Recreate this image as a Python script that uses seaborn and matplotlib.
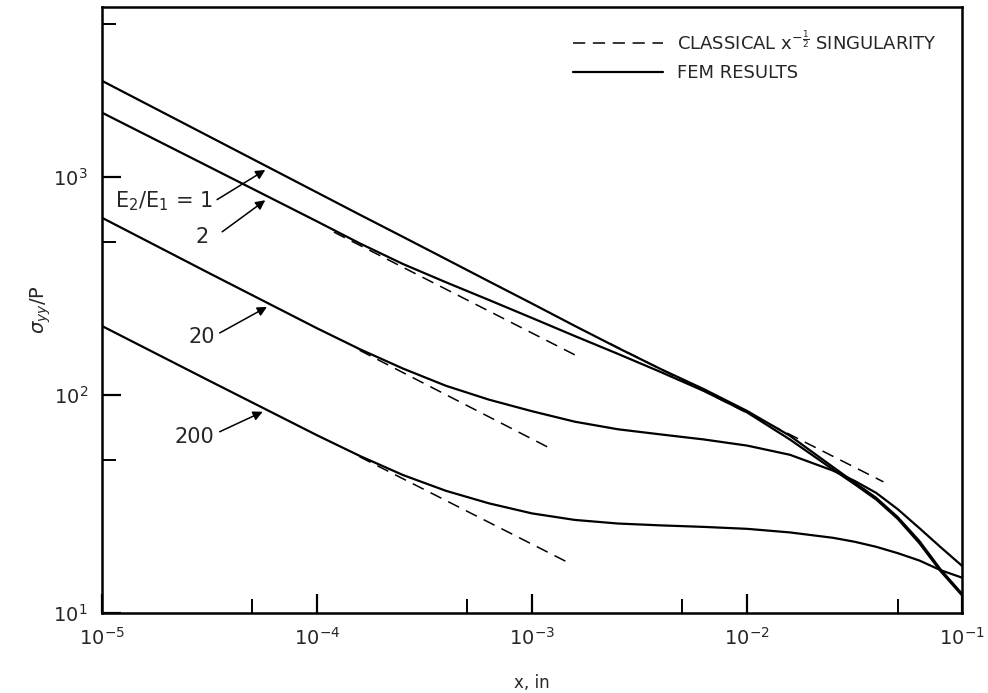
import numpy as np
import pandas as pd
import matplotlib
matplotlib.use("Agg")
import matplotlib.pyplot as plt
import seaborn as sns
from matplotlib.ticker import LogLocator, NullFormatter
from matplotlib.lines import Line2D

# ---- data (x in inches, sigma_yy / P) ----
x_fem = [1e-5, 3.16e-5, 1e-4, 1.58e-4, 2.51e-4, 3.98e-4, 6.31e-4, 1e-3,
         1.58e-3, 2.51e-3, 3.98e-3, 6.31e-3, 1e-2, 1.58e-2, 2.51e-2,
         3.16e-2, 3.98e-2, 5.01e-2, 6.31e-2, 7.94e-2, 1e-1]

fem_e1 = [2754, 1528, 847, 670, 530, 419, 331, 262, 207, 164, 131, 106,
          84.3, 64.9, 46.6, 39.6, 33.7, 27.5, 21.4, 15.8, 12.2]
fem_e2 = [1968, 1109, 624, 495, 398, 328, 272, 225, 186, 154, 127, 104,
          83.0, 62.4, 45.4, 38.9, 33.1, 27.0, 20.9, 15.5, 12.0]
fem_e20 = [649, 361, 202, 162, 132, 110, 95, 84.1, 75.3, 69.5, 65.8,
           62.4, 58.5, 53.1, 44.9, 40.3, 35.5, 29.9, 24.5, 20.0, 16.4]
fem_e200 = [207, 116, 65.3, 52.5, 42.9, 36.3, 31.8, 28.6, 26.7, 25.7,
            25.2, 24.8, 24.3, 23.4, 22.1, 21.2, 20.1, 18.8, 17.4, 15.7, 14.5]

# classical x^-1/2 lines (end points)
cl_x1 = [1.2e-4, 1.58e-3]
cl_y1 = [557, 152.5]
cl_x2 = [2.3e-3, 4.3e-2]
cl_y2 = [172, 39.9]
cl_x3 = [1.58e-4, 1.25e-3]
cl_y3 = [160, 56]
cl_x4 = [1.58e-4, 1.46e-3]
cl_y4 = [52, 17.1]

ratio_labels = [r"E$_2$/E$_1$ = 1", "2", "20", "200"]

# ---- build long tables ----
fem = pd.concat([
    pd.DataFrame({"x": x_fem, "y": vals, "curve": name})
    for name, vals in zip(["1", "2", "20", "200"],
                          [fem_e1, fem_e2, fem_e20, fem_e200])
])
classical = pd.concat([
    pd.DataFrame({"x": cx, "y": cy, "curve": str(i)})
    for i, (cx, cy) in enumerate([(cl_x1, cl_y1), (cl_x2, cl_y2),
                                  (cl_x3, cl_y3), (cl_x4, cl_y4)])
])

sns.set_theme(style="white")
plt.rcParams["font.family"] = ["DejaVu Sans"]
plt.rcParams["mathtext.fontset"] = "dejavusans"

fig = plt.figure(figsize=(9.88, 6.93), dpi=100)
ax = fig.add_axes([0.103, 0.1155, 0.871, 0.8745])

DASH = (0, (8, 5))
for name, grp in fem.groupby("curve", sort=False):
    sns.lineplot(data=grp, x="x", y="y", ax=ax, color="black", lw=1.6,
                 estimator=None, sort=False, legend=False)
for name, grp in classical.groupby("curve", sort=False):
    sns.lineplot(data=grp, x="x", y="y", ax=ax, color="black", lw=1.1,
                 estimator=None, sort=False, legend=False, linestyle=DASH)

ax.set_xscale("log")
ax.set_yscale("log")
ax.set_xlim(1e-5, 1e-1)
ax.set_ylim(10, 6000)

ax.xaxis.set_major_locator(LogLocator(base=10, numticks=10))
ax.yaxis.set_major_locator(LogLocator(base=10, numticks=10))
ax.xaxis.set_minor_locator(LogLocator(base=10, subs=[5], numticks=10))
ax.yaxis.set_minor_locator(LogLocator(base=10, subs=[5], numticks=10))
ax.xaxis.set_minor_formatter(NullFormatter())
ax.yaxis.set_minor_formatter(NullFormatter())

ax.tick_params(axis="both", which="major", direction="in", length=14,
               width=1.6, color="black", labelsize=14, pad=10,
               bottom=True, left=True, top=False, right=False)
ax.tick_params(axis="both", which="minor", direction="in", length=10,
               width=1.4, color="black",
               bottom=True, left=True, top=False, right=False)

for sp in ax.spines.values():
    sp.set_color("black")
    sp.set_linewidth(1.8)

ax.set_xlabel("x, in", fontsize=12, labelpad=18)
ax.set_ylabel(r"$\sigma_{yy}$/P", fontsize=14, labelpad=0)

# ---- curve annotations ----
text_pos = [(0.072, 0.680), (0.117, 0.620), (0.116, 0.455), (0.108, 0.290)]
tails = [(0.134, 0.682), (0.140, 0.629), (0.137, 0.462), (0.137, 0.299)]
heads = [(0.190, 0.731), (0.190, 0.681), (0.192, 0.505), (0.187, 0.332)]
for lab, tp, tl, hd in zip(ratio_labels, text_pos, tails, heads):
    ax.text(tp[0], tp[1], lab, transform=ax.transAxes, fontsize=15,
            ha="center", va="center")
    ax.annotate("", xy=hd, xycoords="axes fraction", xytext=tl,
                textcoords="axes fraction",
                arrowprops=dict(arrowstyle="-|>", color="black", lw=1.1,
                                mutation_scale=14, shrinkA=0, shrinkB=0))

# ---- legend ----
handles = [Line2D([], [], color="black", lw=1.1, linestyle=DASH),
           Line2D([], [], color="black", lw=1.6)]
labels = [r"CLASSICAL x$^{-\frac{1}{2}}$ SINGULARITY", "FEM RESULTS"]
ax.legend(handles, labels, loc="upper right", bbox_to_anchor=(0.99, 0.99),
          frameon=False, fontsize=13, handlelength=5.0, handletextpad=0.8,
          labelspacing=0.6)

fig.savefig("out.png", dpi=100)
